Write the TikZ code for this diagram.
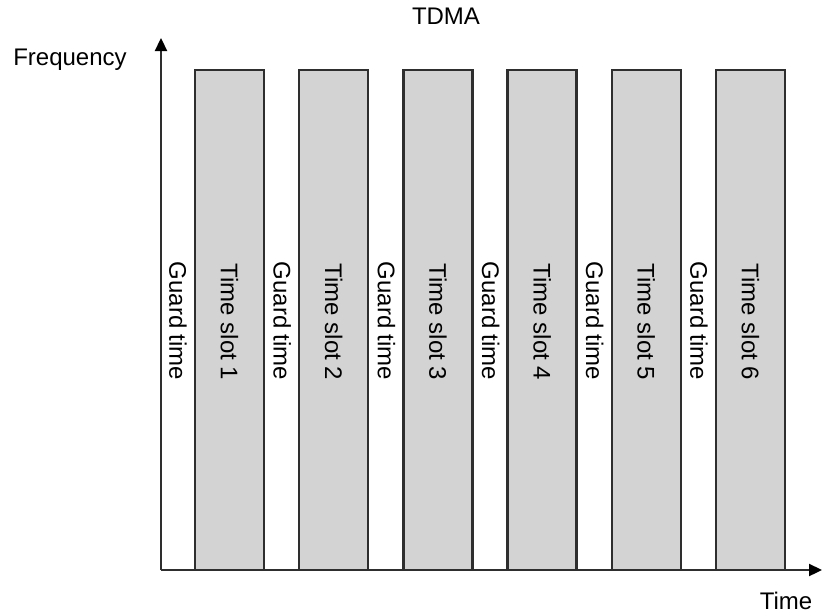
\documentclass[tikz,border=0pt]{standalone}
\usepackage{fontspec}
\setmainfont{Liberation Sans}
\usetikzlibrary{arrows.meta}
\definecolor{slotgray}{HTML}{D3D3D3}
\definecolor{linegray}{HTML}{2E2E2E}
\begin{document}
\begin{tikzpicture}[x=1pt,y=-1pt,
  slotbox/.style={draw=linegray,line width=2.3pt,fill=slotgray},
  axisline/.style={draw=linegray,line width=2.3pt,-{Triangle[length=13pt,width=12pt,color=black]}},
  lbl/.style={font=\fontsize{24}{28}\selectfont,inner sep=0pt,text=black},
  vlbl/.style={lbl,rotate=-90}]
\useasboundingbox (0,0) rectangle (823,614);
\coordinate (O) at (161,570);
\coordinate (Ytip) at (161,38);
\coordinate (Xtip) at (822,570);
\foreach \i in {1,...,6} {
  \pgfmathsetmacro{\xl}{195+104.2*(\i-1)}
  \pgfmathsetmacro{\xr}{\xl+69}
  \draw[slotbox] (\xl,570) rectangle (\xr,70);
  \node[vlbl] (ts\i) at ({(\xl+\xr)/2},322) {Time slot \i};
  \node[vlbl] (gt\i) at ({\xl-17},321) {Guard time};
}
\draw[axisline] (O) -- (Ytip);
\draw[axisline] (O) -- (Xtip);
\node[lbl] (title) at (446,16) {TDMA};
\node[lbl] (freq) at (70,60) {Frequency};
\node[lbl] (time) at (786,601) {Time};
\end{tikzpicture}
\end{document}
